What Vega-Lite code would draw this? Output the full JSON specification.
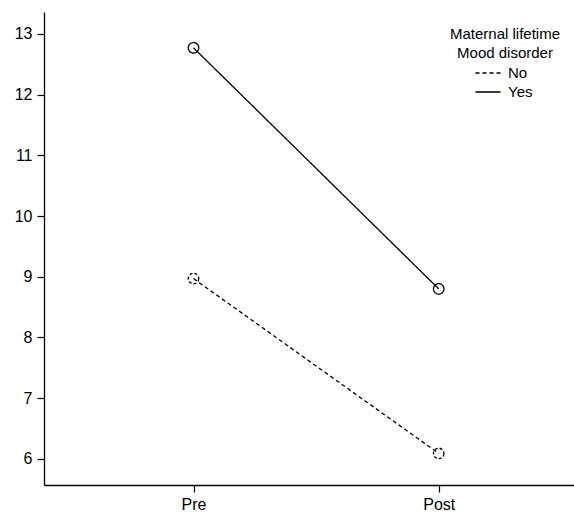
{
  "$schema": "https://vega.github.io/schema/vega-lite/v6.json",
  "width": 530,
  "height": 473,
  "autosize": {"type": "none"},
  "padding": {"left": 44, "top": 12, "right": 0, "bottom": 29},
  "background": "white",
  "config": {
    "view": {"stroke": null},
    "font": "Liberation Sans",
    "axis": {
      "domainColor": "black",
      "domainWidth": 1.3,
      "tickColor": "black",
      "tickWidth": 1.2,
      "tickSize": 7,
      "labelColor": "black",
      "labelFont": "Liberation Sans",
      "labelFontSize": 16,
      "grid": false,
      "title": null
    }
  },
  "data": {
    "values": [
      {"time": "Pre", "group": "No", "score": 8.97},
      {"time": "Post", "group": "No", "score": 6.09},
      {"time": "Pre", "group": "Yes", "score": 12.77},
      {"time": "Post", "group": "Yes", "score": 8.8}
    ]
  },
  "encoding": {
    "x": {
      "field": "time",
      "type": "nominal",
      "sort": ["Pre", "Post"],
      "scale": {"type": "point", "padding": 0.5807, "align": 0.525},
      "axis": {"labelAngle": 0, "labelPadding": 4}
    },
    "y": {
      "field": "score",
      "type": "quantitative",
      "scale": {"domain": [5.57, 13.36], "nice": false, "zero": false},
      "axis": {"values": [6, 7, 8, 9, 10, 11, 12, 13], "labelPadding": 5}
    }
  },
  "layer": [
    {
      "mark": {"type": "line", "color": "black", "strokeWidth": 1.3},
      "encoding": {
        "detail": {"field": "group"},
        "strokeDash": {
          "field": "group",
          "type": "nominal",
          "scale": {"domain": ["No", "Yes"], "range": [[4, 3], [1, 0]]},
          "legend": {
            "title": ["Maternal lifetime", "Mood disorder"],
            "orient": "none",
            "legendX": 406,
            "legendY": 15,
            "titleAlign": "center",
            "titleAnchor": "middle",
            "titleFont": "Liberation Sans",
            "titleFontSize": 15,
            "titleFontWeight": "normal",
            "titleColor": "black",
            "titleLineHeight": 19,
            "titlePadding": 1,
            "labelFont": "Liberation Sans",
            "labelFontSize": 15,
            "labelColor": "black",
            "labelOffset": 9,
            "symbolType": "M-1.25,0H1.25",
            "symbolSize": 400,
            "symbolStrokeWidth": 1.3,
            "symbolStrokeColor": "black",
            "rowPadding": 0
          }
        }
      }
    },
    {
      "mark": {"type": "point", "filled": false, "color": "black", "size": 110, "strokeWidth": 1.3, "opacity": 1},
      "encoding": {
        "strokeDash": {
          "condition": {"test": "datum.group === 'No'", "value": [3, 2]},
          "value": [1, 0]
        }
      }
    }
  ]
}
